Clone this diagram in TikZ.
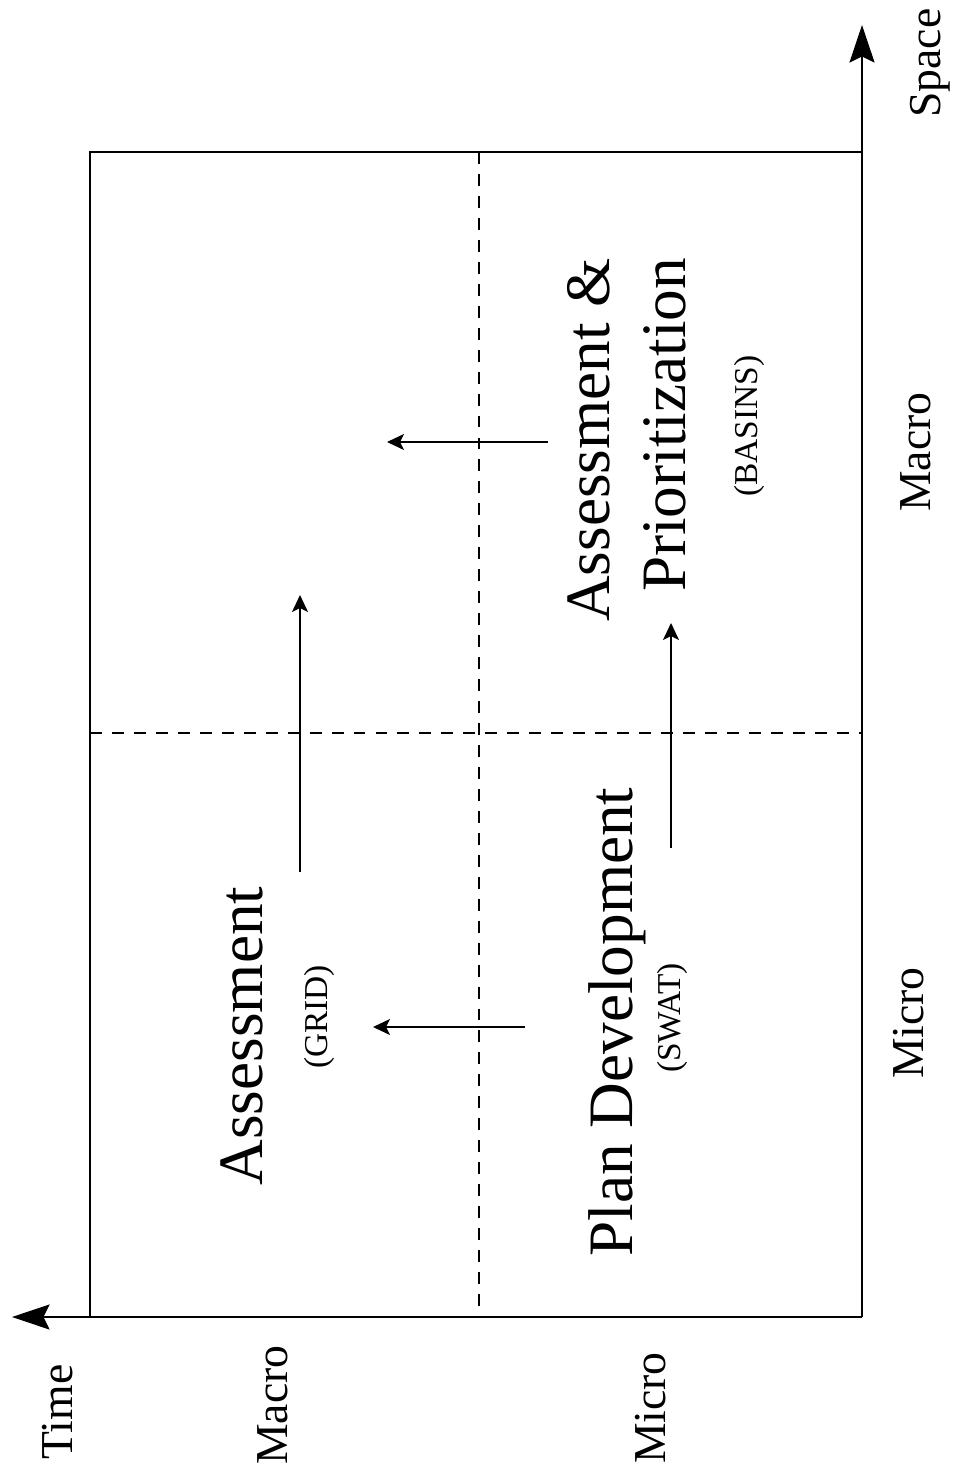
\documentclass[tikz,border=0pt]{standalone}
\usepackage{fontspec}
\setmainfont{Liberation Serif}
\usetikzlibrary{arrows.meta}

\begin{document}
\begin{tikzpicture}[
  x=0.02cm,y=-0.02cm,
  every node/.style={inner sep=0pt,rotate=90},
  big/.style={font=\fontsize{36}{43}\selectfont},
  tool/.style={font=\fontsize{19}{22}\selectfont,anchor=base},
  axlbl/.style={font=\fontsize{26}{30}\selectfont,anchor=base},
  frame/.style={line width=1.2pt},
  axis/.style={line width=1.3pt,-{Stealth[length=7.5mm,width=5mm,inset=1.2mm]}},
  arr/.style={line width=0.9pt,-{Stealth[length=3.4mm,width=3.2mm,inset=0.8mm]}},
  divline/.style={line width=0.9pt,dash pattern=on 6.8pt off 5.7pt}
]
\useasboundingbox (0,0) rectangle (964,1473);

% Frame corners and axis tips.
\coordinate (org)  at (862,1317);
\coordinate (tl)   at (90,152);
\coordinate (ttip) at (12,1317);
\coordinate (stip) at (862,25);
\coordinate (mid)  at (479,733);

\draw[frame] (org -| tl) |- (tl -| org);
\draw[axis] (org) -- (ttip);
\draw[axis] (org) -- (stip);

% Quadrant dividers.
\draw[divline] (mid |- tl) -- (mid |- org);
\draw[divline] (mid -| tl) -- (mid -| org);

% Axis labels.
\node[axlbl] (time)   at (72,1412)  {Time};
\node[axlbl] (tmacro) at (287,1405) {Macro};
\node[axlbl] (tmicro) at (665,1408) {Micro};
\node[axlbl] (space)  at (940,63)   {Space};
\node[axlbl] (smacro) at (930,452)  {Macro};
\node[axlbl] (smicro) at (923,1023) {Micro};

% Quadrant texts.
\node[big,anchor=base] (assess) at (262,1036) {Assessment};
\node[tool] (grid) at (327,1017) {(GRID)};
\node[big,anchor=base] (plan) at (632,1022) {Plan Development};
\node[tool] (swat) at (680,1018) {(SWAT)};
\node[big,align=right] (assprio) at (627,440) {Assessment \&\\Prioritization};
\node[tool] (basins) at (757,426) {(BASINS)};

% Transition arrows.
\coordinate (a1s) at (525,1027); \coordinate (a1e) at (373,1027);
\coordinate (a2s) at (300,872);  \coordinate (a2e) at (300,595);
\coordinate (a3s) at (548,442);  \coordinate (a3e) at (387,442);
\coordinate (a4s) at (671,848);  \coordinate (a4e) at (671,623);
\draw[arr] (a1s) -- (a1e);
\draw[arr] (a2s) -- (a2e);
\draw[arr] (a3s) -- (a3e);
\draw[arr] (a4s) -- (a4e);
\end{tikzpicture}
\end{document}
